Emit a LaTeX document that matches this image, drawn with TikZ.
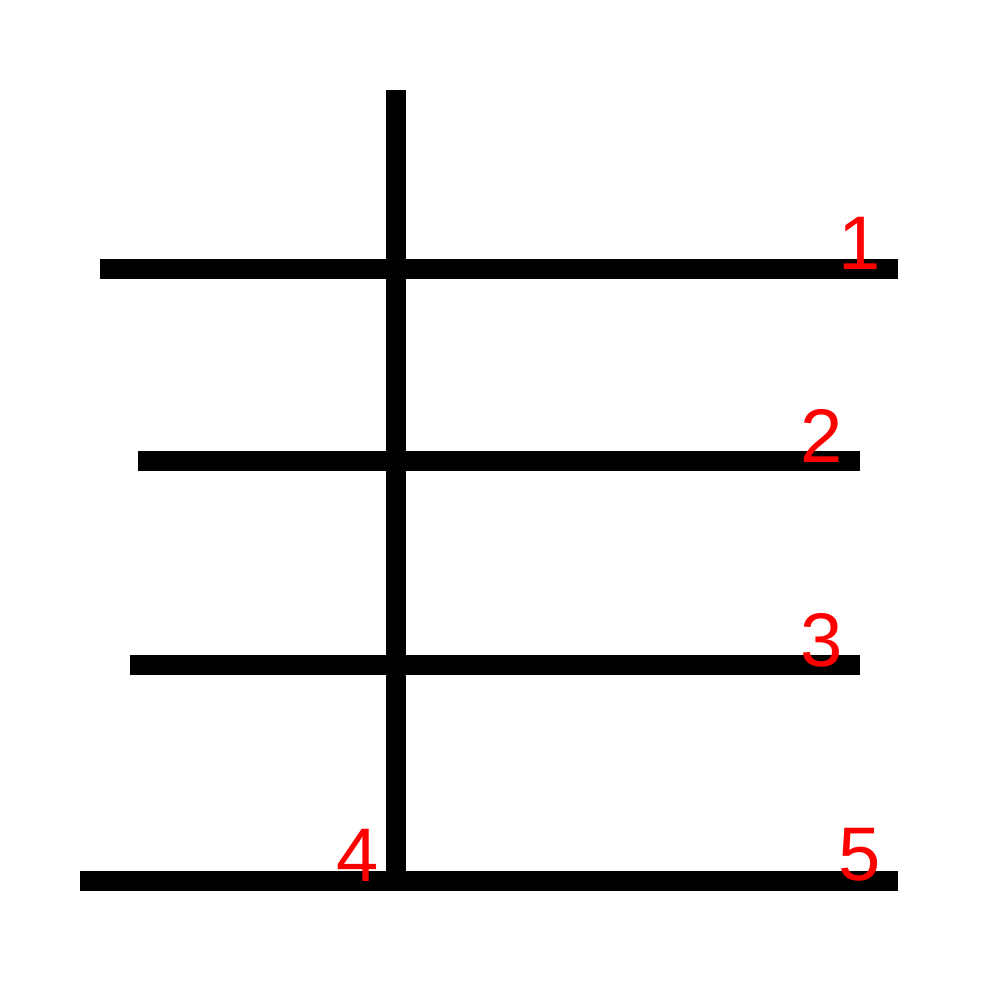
\documentclass[tikz,border=0pt]{standalone}
\usepackage{fontspec}
\setmainfont{Liberation Sans}
\begin{document}
\begin{tikzpicture}[x=1pt,y=-1pt,
  strk/.style={line width=20pt,line cap=butt},
  num/.style={text=red,font=\fontsize{76}{76}\selectfont,inner sep=0pt}]
\useasboundingbox[fill=white] (0,0) rectangle (1000,1000);
\coordinate (a1) at (100,269); \coordinate (b1) at (898,269);
\coordinate (a2) at (138,461); \coordinate (b2) at (860,461);
\coordinate (a3) at (130,665); \coordinate (b3) at (860,665);
\coordinate (a4) at (396,90);  \coordinate (b4) at (396,880);
\coordinate (a5) at (80,881);  \coordinate (b5) at (898,881);
\draw[strk] (a1) -- (b1);
\draw[strk] (a2) -- (b2);
\draw[strk] (a3) -- (b3);
\draw[strk] (a4) -- (b4);
\draw[strk] (a5) -- (b5);
\node[num] (n1) at (860,243) {1};
\node[num] (n2) at (822,436) {2};
\node[num] (n3) at (822,640) {3};
\node[num] (n4) at (358,855) {4};
\node[num] (n5) at (860,855) {5};
\end{tikzpicture}
\end{document}
